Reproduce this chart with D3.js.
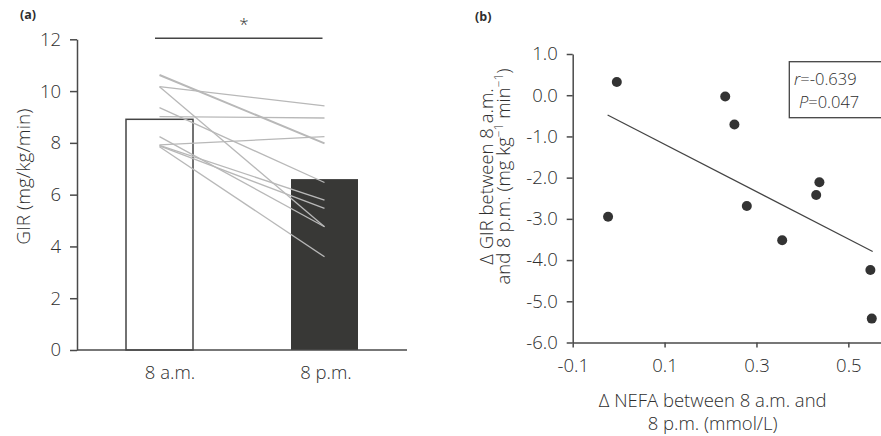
<!DOCTYPE html>
<html>
<head>
<meta charset="utf-8">
<script src="https://cdn.jsdelivr.net/npm/d3@7"></script>
<style>
  body { margin: 0; background: #fff; }
  svg text { font-family: "Open Sans", "Noto Sans", sans-serif; font-weight: 300; fill: #2e2e2e; }
</style>
</head>
<body>
<svg id="chart" width="881" height="436"></svg>
<script>
// Panel (a): GIR at 8 a.m. vs 8 p.m.
const sessions = ["8 a.m.", "8 p.m."];
const meanGir = [8.91, 6.6];
const girAm = [10.62, 10.17, 10.17, 9.36, 9.01, 8.24, 7.92, 7.9, 7.88, 7.85];
const girPm = [7.98, 9.43, 4.76, 6.47, 8.96, 4.76, 8.24, 5.79, 5.47, 3.6];
const girTicks = [0, 2, 4, 6, 8, 10, 12];

// Panel (b): change in NEFA vs change in GIR
const dNefa = [-0.023, -0.004, 0.232, 0.252, 0.279, 0.356, 0.43, 0.437, 0.548, 0.551];
const dGir = [-2.95, 0.32, -0.03, -0.71, -2.69, -3.52, -2.42, -2.11, -4.24, -5.42];
const fitNefa = [-0.024, 0.553];
const fitGir = [-0.48, -3.79];
const nefaTicks = [-0.1, 0.1, 0.3, 0.5];
const dGirTicks = [1, 0, -1, -2, -3, -4, -5, -6];

const svg = d3.select("#chart");
const axisColor = "#4a4a4a";
const fs = 18.5;

function styleAxis(g) {
  g.select(".domain").attr("stroke", axisColor).attr("stroke-width", 1.5);
  g.selectAll(".tick line").attr("stroke", axisColor).attr("stroke-width", 1.5);
  g.selectAll(".tick text").attr("font-size", fs).attr("fill", "#2e2e2e");
}

// ---------- panel (a) ----------
const xA = d3.scalePoint().domain(sessions).range([77, 407]).padding(0.5);
const yA = d3.scaleLinear().domain([0, 12]).range([350, 39.3]);
const barW = 67;

svg.append("text").attr("x", 20).attr("y", 19)
  .attr("font-size", 12.5).style("font-weight", 700).attr("fill", "#222").text("(a)");

svg.append("g")
  .selectAll("rect")
  .data(sessions)
  .join("rect")
  .attr("x", (d) => xA(d) - barW / 2)
  .attr("y", (d, i) => yA(meanGir[i]))
  .attr("width", barW)
  .attr("height", (d, i) => yA(0) - yA(meanGir[i]))
  .attr("fill", (d, i) => (i === 0 ? "#fff" : "#383836"))
  .attr("stroke", (d, i) => (i === 0 ? "#444" : "none"))
  .attr("stroke-width", 1.5);

// individual subjects
svg.append("g")
  .selectAll("line")
  .data(girAm)
  .join("line")
  .attr("x1", xA(sessions[0]))
  .attr("x2", xA(sessions[1]))
  .attr("y1", (d) => yA(d))
  .attr("y2", (d, i) => yA(girPm[i]))
  .attr("stroke", "#b8b8b8")
  .attr("stroke-width", (d, i) => (i === 0 ? 2 : 1.3));

svg.append("g")
  .attr("transform", "translate(77,0)")
  .call(d3.axisLeft(yA).tickValues(girTicks).tickSize(7).tickPadding(9).tickSizeOuter(0))
  .call(styleAxis);

const xAxisA = svg.append("g")
  .attr("transform", `translate(0,${yA(0)})`)
  .call(d3.axisBottom(xA).tickSize(0).tickPadding(16))
  .call(styleAxis);
xAxisA.select(".domain").attr("d", "M77,0H407");
xAxisA.selectAll(".tick text").attr("dx", (d, i) => (i === 0 ? 10 : 1));

// significance bracket
svg.append("line")
  .attr("x1", xA(sessions[0]) - 4.5).attr("x2", xA(sessions[1]) - 2)
  .attr("y1", 38.3).attr("y2", 38.3)
  .attr("stroke", "#444").attr("stroke-width", 1.6);
svg.append("text").attr("x", 244).attr("y", 30)
  .attr("text-anchor", "middle").attr("font-size", 17).text("*");

svg.append("text")
  .attr("transform", "translate(30,176.7) rotate(-90)")
  .attr("text-anchor", "middle").attr("font-size", 19)
  .text("GIR (mg/kg/min)");

// ---------- panel (b) ----------
const xB = d3.scaleLinear().domain([-0.1, 0.57]).range([572.7, 880.5]);
const yB = d3.scaleLinear().domain([-6, 1]).range([342.5, 54]);

svg.append("text").attr("x", 475).attr("y", 21)
  .attr("font-size", 12.5).style("font-weight", 700).attr("fill", "#222").text("(b)");

svg.append("g")
  .attr("transform", "translate(572.7,0)")
  .call(d3.axisLeft(yB).tickValues(dGirTicks).tickFormat((d) => d.toFixed(1))
    .tickSize(6).tickPadding(9).tickSizeOuter(0))
  .call(styleAxis);

svg.append("g")
  .attr("transform", `translate(0,${yB(-6)})`)
  .call(d3.axisBottom(xB).tickValues(nefaTicks).tickFormat((d) => d.toFixed(1))
    .tickSize(5).tickPadding(11).tickSizeOuter(0))
  .call(styleAxis);

svg.append("line")
  .attr("x1", xB(fitNefa[0])).attr("y1", yB(fitGir[0]))
  .attr("x2", xB(fitNefa[1])).attr("y2", yB(fitGir[1]))
  .attr("stroke", "#444").attr("stroke-width", 1.2);

svg.append("g")
  .selectAll("circle")
  .data(dNefa)
  .join("circle")
  .attr("cx", (d) => xB(d))
  .attr("cy", (d, i) => yB(dGir[i]))
  .attr("r", 5)
  .attr("fill", "#333");

// r / P box
svg.append("rect")
  .attr("x", 789.3).attr("y", 61.7).attr("width", 100).attr("height", 56)
  .attr("fill", "#fff").attr("stroke", "#444").attr("stroke-width", 1.3);
const stats = svg.append("text").attr("font-size", 16.5);
stats.append("tspan").attr("x", 794).attr("y", 85).style("font-style", "italic").text("r");
stats.append("tspan").text("=-0.639");
stats.append("tspan").attr("x", 799).attr("y", 108).style("font-style", "italic").text("P");
stats.append("tspan").text("=0.047");

// axis titles
const yTitle = svg.append("g").attr("transform", "translate(0,176.5) rotate(-90)")
  .attr("font-size", fs);
yTitle.append("text").attr("x", 0).attr("y", 493).attr("text-anchor", "middle")
  .text("Δ GIR between 8 a.m.");
const line2 = yTitle.append("text").attr("x", 0).attr("y", 510).attr("text-anchor", "middle");
line2.append("tspan").text("and 8 p.m. (mg kg");
line2.append("tspan").attr("dy", -7).attr("font-size", 12).text("−1");
line2.append("tspan").attr("dy", 7).text(" min");
line2.append("tspan").attr("dy", -7).attr("font-size", 12).text("−1");
line2.append("tspan").attr("dy", 7).text(")");

svg.append("text").attr("x", 712.7).attr("y", 406.7).attr("text-anchor", "middle")
  .attr("font-size", fs).text("Δ NEFA between 8 a.m. and");
svg.append("text").attr("x", 712.7).attr("y", 430).attr("text-anchor", "middle")
  .attr("font-size", fs).text("8 p.m. (mmol/L)");
</script>
</body>
</html>
